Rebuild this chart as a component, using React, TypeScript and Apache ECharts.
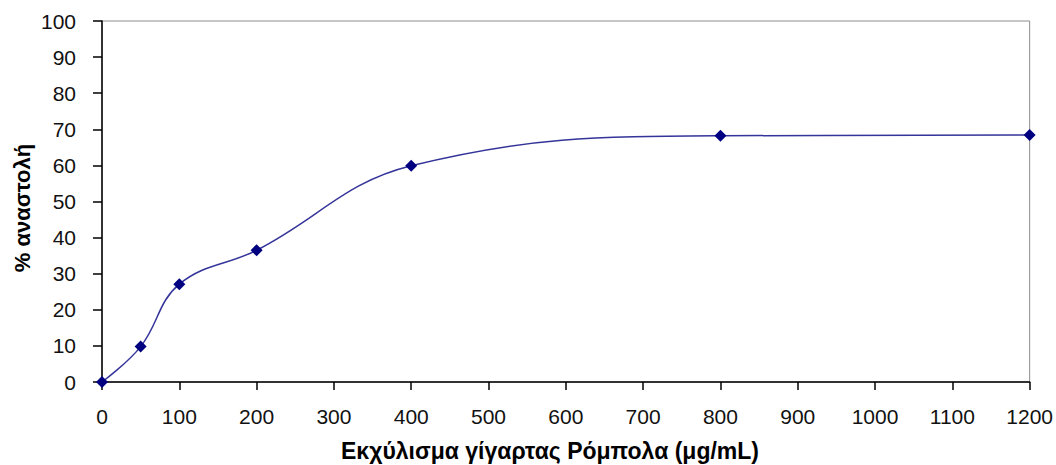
import React, { useEffect, useRef } from "react";
import * as echarts from "echarts";

const concentrations = [0, 50, 100, 200, 400, 800, 1200];
const inhibition = [0, 9.8, 27.1, 36.5, 59.9, 68.2, 68.4];
const xTitle = "Εκχύλισμα γίγαρτας Ρόμπολα (μg/mL)";
const yTitle = "% αναστολή";

export default function App() {
  const ref = useRef<HTMLDivElement>(null);
  useEffect(() => {
    if (!ref.current) return;
    const chart = echarts.init(ref.current, undefined, { renderer: "svg" });
    const font = "Arial, 'Liberation Sans', sans-serif";
    chart.setOption({
      animation: false,
      backgroundColor: "#ffffff",
      grid: {
        left: 102,
        right: 26,
        top: 21,
        bottom: 83,
        show: true,
        borderColor: "#8c8c8c",
        borderWidth: 1,
      },
      graphic: [
        {
          type: "text",
          x: 22,
          y: 208,
          rotation: Math.PI / 2,
          style: {
            text: yTitle,
            fontFamily: font,
            fontSize: 22,
            fontWeight: "bold",
            fill: "#000",
            align: "center",
            verticalAlign: "middle",
          },
        },
        {
          type: "text",
          x: 550,
          y: 451,
          style: {
            text: xTitle,
            fontFamily: font,
            fontSize: 23,
            fontWeight: "bold",
            fill: "#000",
            align: "center",
            verticalAlign: "middle",
          },
        },
      ],
      xAxis: {
        type: "value",
        min: 0,
        max: 1200,
        interval: 100,
        axisLine: { show: true, onZero: false, lineStyle: { color: "#000", width: 1.5 } },
        axisTick: { show: true, inside: false, length: 8, lineStyle: { color: "#000", width: 1.5 } },
        axisLabel: {
          fontFamily: font,
          fontSize: 21,
          color: "#111",
          margin: 24,
          formatter: (v: number) => String(v),
        },
        splitLine: { show: false },
      },
      yAxis: {
        type: "value",
        min: 0,
        max: 100,
        interval: 10,
        axisLine: { show: true, onZero: false, lineStyle: { color: "#000", width: 1.5 } },
        axisTick: { show: true, inside: false, length: 9, lineStyle: { color: "#000", width: 1.5 } },
        axisLabel: { fontFamily: font, fontSize: 21, color: "#111", margin: 26 },
        splitLine: { show: false },
      },
      series: [
        {
          type: "line",
          data: concentrations.map((c, i) => [c, inhibition[i]]),
          smooth: 0.4,
          clip: false,
          symbol: "diamond",
          symbolSize: 12,
          itemStyle: { color: "#000080" },
          lineStyle: { color: "#34349a", width: 1.5 },
        },
      ],
    });
    return () => chart.dispose();
  }, []);
  return (
    <div
      ref={ref}
      style={{ position: "fixed", left: 0, top: 0, width: 1056, height: 465 }}
    />
  );
}
